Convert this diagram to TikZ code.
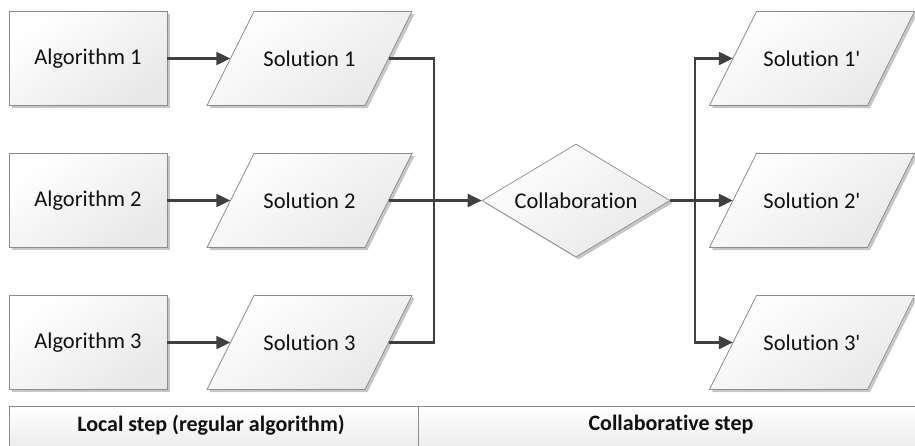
\documentclass[tikz,border=0pt]{standalone}
\usepackage{fontspec}
\setmainfont{Carlito}[Ligatures=NoCommon]
\usetikzlibrary{shapes.geometric,arrows.meta,shadows}
\definecolor{edgegray}{HTML}{8C8C8C}
\definecolor{linegray}{HTML}{404040}
\definecolor{txt}{HTML}{111111}
\tikzset{
  shapefill/.style={top color=white, bottom color=black!9, shading angle=35},
  shadowed/.style={drop shadow={shadow xshift=2.5pt, shadow yshift=-2.5pt, fill=black, opacity=0.22}},
  algbox/.style={rectangle, draw=edgegray, line width=0.7pt, shapefill, shadowed,
    minimum width=158pt, minimum height=94pt, inner sep=0pt, font=\fontsize{22.5}{26}\selectfont, text=txt},
  parashape/.style={draw=edgegray, line width=0.7pt, shapefill, shadowed},
  solnode/.style={rectangle, minimum width=158pt, minimum height=94pt, inner sep=0pt,
    font=\fontsize{22.5}{26}\selectfont, text=txt},
  decide/.style={diamond, draw=edgegray, line width=0.7pt, shapefill, shadowed,
    minimum width=188pt, minimum height=113pt, inner sep=0pt, aspect=1.66,
    font=\fontsize{22.5}{26}\selectfont, text=txt},
  barcell/.style={rectangle, draw=edgegray, line width=0.7pt, top color=white, bottom color=black!8,
    minimum height=44pt, inner sep=0pt, anchor=north west},
  bartext/.style={text=txt, font=\bfseries\fontsize{22}{25}\selectfont},
  conn/.style={draw=linegray, line width=2.3pt},
  arr/.style={conn, -{Triangle[length=14pt,width=13pt]}},
}
\newcommand\parabox[4]{%
  \path[parashape] ({#2-102.5},{#3+47}) -- ({#2-55.5},{#3-47}) -- ({#2+102.5},{#3-47}) -- ({#2+55.5},{#3+47}) -- cycle;
  \node[solnode] (#1) at (#2,#3) {#4};
}
\begin{document}
\begin{tikzpicture}[x=1pt,y=-1pt]
\useasboundingbox (0,0) rectangle (915,445);

\node[algbox] (a1) at (88,58.5) {Algorithm 1};
\node[algbox] (a2) at (88,200.5) {Algorithm 2};
\node[algbox] (a3) at (88,342.5) {Algorithm 3};

\parabox{s1}{309.5}{58.5}{Solution 1}
\parabox{s2}{309.5}{200.5}{Solution 2}
\parabox{s3}{309.5}{342.5}{Solution 3}

\node[decide] (c) at (576,200.5) {Collaboration};

\parabox{t1}{812}{58.5}{Solution 1\textquotesingle}
\parabox{t2}{812}{200.5}{Solution 2\textquotesingle}
\parabox{t3}{812}{342.5}{Solution 3\textquotesingle}

\coordinate (jl) at (434,200.5);
\coordinate (jr) at (695,200.5);

\draw[arr] (a1.east) -- (s1.west);
\draw[arr] (a2.east) -- (s2.west);
\draw[arr] (a3.east) -- (s3.west);

\draw[conn] (s1.east) -| (jl);
\draw[conn] (s3.east) -| (jl);
\draw[arr] (s2.east) -- (c.west);

\draw[conn] (c.east) -- (jr);
\draw[arr] (jr) |- (t1.west);
\draw[arr] (jr) -- (t2.west);
\draw[arr] (jr) |- (t3.west);

\node[barcell, minimum width=409pt] (b1) at (9,406) {};
\node[barcell, minimum width=506pt] (b2) at (418,406) {};
\node[bartext] (l1) at (211,425) {Local step (regular algorithm)};
\node[bartext] (l2) at (671,425) {Collaborative step};
\end{tikzpicture}
\end{document}
